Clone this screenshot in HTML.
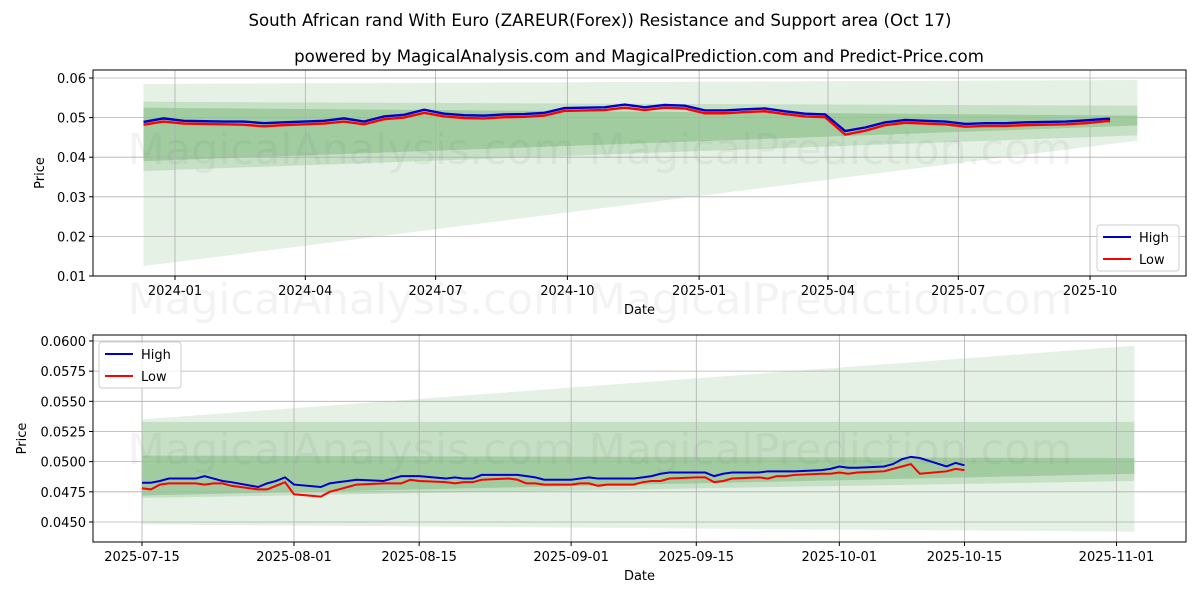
<!DOCTYPE html>
<html><head><meta charset="utf-8"><style>
body{margin:0;background:#fff;font-family:"Liberation Sans","DejaVu Sans",sans-serif}
svg text{font-family:"DejaVu Sans","Liberation Sans",sans-serif}
</style></head><body>
<svg id="c" width="1200" height="600" xmlns="http://www.w3.org/2000/svg">
<rect width="1200" height="600" fill="#fff"/>
<text x="600" y="26" text-anchor="middle" font-size="16.6">South African rand With Euro (ZAREUR(Forex)) Resistance and Support area (Oct 17)</text>
<text x="639" y="62" text-anchor="middle" font-size="16.6">powered by MagicalAnalysis.com and MagicalPrediction.com and Predict-Price.com</text>
</svg>
<script>
const topDates=["2023-12-10","2023-12-24","2024-01-07","2024-01-21","2024-02-04","2024-02-18","2024-03-03","2024-03-17","2024-03-31","2024-04-14","2024-04-28","2024-05-12","2024-05-26","2024-06-09","2024-06-23","2024-07-07","2024-07-21","2024-08-04","2024-08-18","2024-09-01","2024-09-15","2024-09-29","2024-10-13","2024-10-27","2024-11-10","2024-11-24","2024-12-08","2024-12-22","2025-01-05","2025-01-19","2025-02-02","2025-02-16","2025-03-02","2025-03-16","2025-03-30","2025-04-13","2025-04-27","2025-05-11","2025-05-25","2025-06-08","2025-06-22","2025-07-06","2025-07-20","2025-08-03","2025-08-17","2025-08-31","2025-09-14","2025-09-28","2025-10-12","2025-10-15"];
const topHigh=[.0489,.0498,.0492,.0491,.0490,.0490,.0486,.0488,.0490,.0492,.0498,.0490,.0503,.0507,.0520,.0510,.0506,.0505,.0508,.0509,.0512,.0524,.0525,.0526,.0533,.0526,.0532,.0530,.0518,.0518,.0521,.0523,.0516,.0510,.0508,.0466,.0475,.0488,.0494,.0492,.0490,.0484,.0486,.0486,.0488,.0489,.0490,.0493,.0497,.0497];
const topLow=[.0482,.0490,.0485,.0484,.0483,.0482,.0478,.0481,.0483,.0485,.0490,.0483,.0496,.0500,.0512,.0503,.0499,.0498,.0501,.0502,.0505,.0517,.0518,.0519,.0525,.0519,.0525,.0523,.0511,.0511,.0514,.0516,.0509,.0503,.0501,.0457,.0467,.0481,.0487,.0485,.0483,.0477,.0479,.0479,.0481,.0482,.0483,.0486,.0491,.0491];
const botDates=["2025-07-15","2025-07-16","2025-07-17","2025-07-18","2025-07-21","2025-07-22","2025-07-23","2025-07-24","2025-07-25","2025-07-28","2025-07-29","2025-07-30","2025-07-31","2025-08-01","2025-08-04","2025-08-05","2025-08-06","2025-08-07","2025-08-08","2025-08-11","2025-08-12","2025-08-13","2025-08-14","2025-08-15","2025-08-18","2025-08-19","2025-08-20","2025-08-21","2025-08-22","2025-08-25","2025-08-26","2025-08-27","2025-08-28","2025-08-29","2025-09-01","2025-09-02","2025-09-03","2025-09-04","2025-09-05","2025-09-08","2025-09-09","2025-09-10","2025-09-11","2025-09-12","2025-09-15","2025-09-16","2025-09-17","2025-09-18","2025-09-19","2025-09-22","2025-09-23","2025-09-24","2025-09-25","2025-09-26","2025-09-29","2025-09-30","2025-10-01","2025-10-02","2025-10-03","2025-10-06","2025-10-07","2025-10-08","2025-10-09","2025-10-10","2025-10-13","2025-10-14","2025-10-15"];
const botHigh=[.04825,.04825,.0484,.0486,.0486,.0488,.0486,.0484,.0483,.0479,.0482,.0484,.0487,.0481,.0479,.0482,.0483,.0484,.0485,.0484,.0486,.0488,.0488,.0488,.0486,.0487,.0486,.0486,.0489,.0489,.0489,.0488,.0487,.0485,.0485,.0486,.0487,.0486,.0486,.0486,.0487,.0488,.0490,.0491,.0491,.0491,.0488,.0490,.0491,.0491,.0492,.0492,.0492,.0492,.0493,.0494,.0496,.0495,.0495,.0496,.0498,.0502,.0504,.0503,.0496,.0499,.0497];
const botLow=[.0478,.0477,.0481,.0482,.0482,.0481,.0482,.0482,.0480,.0477,.0477,.0480,.0483,.0473,.0471,.0475,.0477,.0479,.0481,.0482,.0482,.0482,.0485,.0484,.0483,.0482,.0483,.0483,.0485,.0486,.0485,.0482,.0482,.0481,.0481,.0482,.0482,.0480,.0481,.0481,.0483,.0484,.0484,.0486,.0487,.0487,.0483,.0484,.0486,.0487,.0486,.0488,.0488,.0489,.0490,.0490,.0491,.0490,.0491,.0492,.0494,.0496,.0498,.0490,.0492,.0494,.0493];
// bands: [startLow,startHigh,endLow,endHigh]
const topBands=[[.0125,.0585,.0442,.0595],[.0365,.0540,.0455,.0530],[.0390,.0525,.0480,.0505]];
const botBands=[[.0448,.0535,.0442,.0596],[.0470,.0533,.0484,.0533],[.0472,.0505,.0490,.0503]];
const topYTicks=[.01,.02,.03,.04,.05,.06];
const topXTicks=["2024-01","2024-04","2024-07","2024-10","2025-01","2025-04","2025-07","2025-10"];
const botYTicks=[.045,.0475,.05,.0525,.055,.0575,.06];
const botXTicks=["2025-07-15","2025-08-01","2025-08-15","2025-09-01","2025-09-15","2025-10-01","2025-10-15","2025-11-01"];

const svg=document.getElementById('c');const NS="http://www.w3.org/2000/svg";
function mk(t,a,p){const e=document.createElementNS(NS,t);for(const k in a)e.setAttribute(k,a[k]);(p||svg).appendChild(e);return e;}
const day=s=>Date.parse(s)/864e5;
function panel(o){
  const g=mk('g',{});
  
  
  const X=d=>o.x0+(day(d)-day(o.d0))*o.pxd;
  const Y=v=>o.yb-(v-o.v0)*o.pyv;
  const bs=X(o.bandStart),be=X(o.bandEnd);
  const cols=['rgba(76,160,76,0.15)','rgba(76,160,76,0.2)','rgba(76,160,76,0.3)'];
  o.bands.forEach((b,i)=>{const p=mk('polygon',{points:`${bs},${Y(b[1])} ${be},${Y(b[3])} ${be},${Y(b[2])} ${bs},${Y(b[0])}`,fill:cols[i]},g);
    
    });
  o.yt.forEach(v=>{const y=Y(v);mk('line',{x1:o.L,x2:o.R,y1:y,y2:y,stroke:'#b0b0b0','stroke-width':0.8},g);
    mk('line',{x1:o.L-4,x2:o.L,y1:y,y2:y,stroke:'#000'},g);
    const t=mk('text',{x:o.L-7,y:y+5,'text-anchor':'end','font-size':13},g);t.textContent=v.toFixed(o.dec);
    
    });
  o.xt.forEach(d=>{const x=X(o.full?d:d+'-01');mk('line',{x1:x,x2:x,y1:o.T,y2:o.B,stroke:'#b0b0b0','stroke-width':0.8},g);
    mk('line',{x1:x,x2:x,y1:o.B,y2:o.B+4,stroke:'#000'},g);
    const t=mk('text',{x:x,y:o.B+19,'text-anchor':'middle','font-size':13},g);t.textContent=d;
    
    });
  const ln=(ds,vs,c,n)=>{const p=mk('polyline',{points:ds.map((d,i)=>X(d)+','+Y(vs[i])).join(' '),fill:'none',stroke:c,'stroke-width':o.sw},g);
    
    };
  ln(o.dates,o.low,'#ff0000','low-line');ln(o.dates,o.high,'#0000cc','high-line');
  mk('rect',{x:o.L,y:o.T,width:o.R-o.L,height:o.B-o.T,fill:'none',stroke:'#000','stroke-width':1},g);
  let t=mk('text',{x:(o.L+o.R)/2,y:o.B+38,'text-anchor':'middle','font-size':13},g);t.textContent='Date';
  
  
  t=mk('text',{x:0,y:0,'text-anchor':'middle','font-size':13,transform:`translate(${o.ytx},${(o.T+o.B)/2}) rotate(-90)`},g);t.textContent='Price';
  
  
  const lg=mk('g',{},g);
  
  
  mk('rect',{x:o.lx,y:o.ly,width:82,height:46,rx:3,fill:'rgba(255,255,255,0.8)',stroke:'#ccc'},lg);
  [['High','#0000cc'],['Low','#ff0000']].forEach((e,i)=>{const yy=o.ly+12+i*22;
    mk('line',{x1:o.lx+6,x2:o.lx+34,y1:yy,y2:yy,stroke:e[1],'stroke-width':2},lg);
    const tt=mk('text',{x:o.lx+42,y:yy+5,'font-size':13},lg);tt.textContent=e[0];
    
    });
}
panel({name:'top-panel',L:93,R:1186,T:70,B:276,x0:175,d0:'2024-01-01',pxd:1.432,yb:276,v0:.01,pyv:3960,
  yt:topYTicks,dec:2,xt:topXTicks,full:false,dates:topDates,high:topHigh,low:topLow,bands:topBands,
  bandStart:'2023-12-10',bandEnd:'2025-11-03',sw:2.4,ytx:44,lx:1097,ly:225});
panel({name:'bottom-panel',L:93,R:1186,T:335,B:542,x0:142,d0:'2025-07-15',pxd:8.94,yb:522,v0:.045,pyv:12068,
  yt:botYTicks,dec:4,xt:botXTicks,full:true,dates:botDates,high:botHigh,low:botLow,bands:botBands,
  bandStart:'2025-07-15',bandEnd:'2025-11-03',sw:2,ytx:26,lx:99,ly:342});
[150,300,450].forEach(y=>{const t=mk('text',{x:600,y:y+14,'text-anchor':'middle','font-size':43,fill:'rgba(120,120,120,0.09)'});
  t.textContent='MagicalAnalysis.com   MagicalPrediction.com';
  
  });
</script>
</body></html>
